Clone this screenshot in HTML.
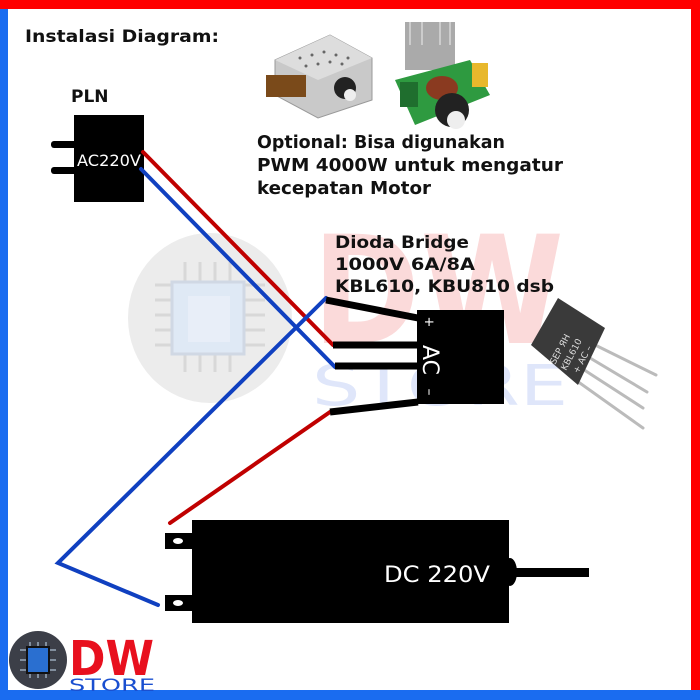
<!DOCTYPE html>
<html><head><meta charset="utf-8"><style>
html,body{margin:0;padding:0;background:#fff}
svg{display:block}
text{font-family:"DejaVu Sans","Liberation Sans",sans-serif}
</style></head><body>
<svg width="700" height="700" viewBox="0 0 700 700" xmlns="http://www.w3.org/2000/svg">
<rect width="700" height="700" fill="#fff"/>
<!-- borders -->
<rect x="0" y="0" width="700" height="9" fill="#f00"/>
<rect x="0" y="9" width="8" height="691" fill="#1a6cf0"/>
<rect x="691" y="0" width="9" height="700" fill="#f00"/>
<rect x="0" y="690" width="700" height="10" fill="#1a6cf0"/>

<!-- watermark -->
<ellipse cx="210" cy="318" rx="82" ry="85" fill="#ececec"/>
<g stroke="#d8d8d8" stroke-width="3">
<line x1="155" y1="285" x2="265" y2="285"/><line x1="155" y1="300" x2="265" y2="300"/><line x1="155" y1="315" x2="265" y2="315"/><line x1="155" y1="330" x2="265" y2="330"/><line x1="155" y1="345" x2="265" y2="345"/>
<line x1="185" y1="262" x2="185" y2="372"/><line x1="200" y1="262" x2="200" y2="372"/><line x1="215" y1="262" x2="215" y2="372"/><line x1="230" y1="262" x2="230" y2="372"/>
</g>
<rect x="172" y="282" width="72" height="72" fill="#dfe9f5" stroke="#d0d8e4" stroke-width="3"/>
<rect x="188" y="296" width="42" height="46" fill="#e8eef8"/>
<text x="312" y="343" font-size="150" font-weight="bold" fill="#fbdada" textLength="252" lengthAdjust="spacingAndGlyphs">DW</text>
<text x="312" y="405" font-size="56" fill="#dfe6fa" textLength="256" lengthAdjust="spacingAndGlyphs">STORE</text>

<!-- title -->
<text x="25" y="42" font-size="17" font-weight="bold" fill="#111" textLength="194" lengthAdjust="spacingAndGlyphs">Instalasi Diagram:</text>
<text x="71" y="102" font-size="17" font-weight="bold" fill="#111">PLN</text>

<!-- PWM images -->
<polygon points="275,60 330,35 372,58 372,100 318,118 275,95" fill="#c9c9c9" stroke="#999"/>
<polygon points="275,60 330,35 372,58 318,80" fill="#ddd"/>
<g fill="#666"><circle cx="300" cy="58" r="1.5"/><circle cx="312" cy="55" r="1.5"/><circle cx="324" cy="52" r="1.5"/><circle cx="336" cy="55" r="1.5"/><circle cx="348" cy="58" r="1.5"/><circle cx="318" cy="64" r="1.5"/><circle cx="330" cy="62" r="1.5"/><circle cx="342" cy="64" r="1.5"/><circle cx="306" cy="66" r="1.5"/></g>
<rect x="266" y="75" width="40" height="22" fill="#7a4a1a"/>
<circle cx="345" cy="88" r="11" fill="#222"/><circle cx="350" cy="95" r="6" fill="#eee"/>
<rect x="405" y="22" width="50" height="48" fill="#aaa"/>
<g stroke="#ccc" stroke-width="2"><line x1="410" y1="22" x2="410" y2="45"/><line x1="422" y1="22" x2="422" y2="45"/><line x1="440" y1="22" x2="440" y2="45"/><line x1="450" y1="22" x2="450" y2="45"/></g>
<polygon points="395,80 470,60 490,95 415,125" fill="#2e9a40"/>
<rect x="400" y="82" width="18" height="25" fill="#1f6e2e"/>
<rect x="472" y="63" width="16" height="24" fill="#e8b82c"/>
<ellipse cx="442" cy="88" rx="16" ry="12" fill="#8a3a20"/>
<circle cx="452" cy="110" r="17" fill="#222"/><circle cx="456" cy="120" r="9" fill="#eee"/>

<text font-size="17.5" font-weight="bold" fill="#111">
<tspan x="257" y="148" textLength="248" lengthAdjust="spacingAndGlyphs">Optional: Bisa digunakan</tspan>
<tspan x="257" y="171" textLength="306" lengthAdjust="spacingAndGlyphs">PWM 4000W untuk mengatur</tspan>
<tspan x="257" y="194" textLength="174" lengthAdjust="spacingAndGlyphs">kecepatan Motor</tspan>
</text>

<!-- AC source -->
<rect x="51" y="141" width="26" height="7" rx="3" fill="#000"/>
<rect x="51" y="167" width="26" height="7" rx="3" fill="#000"/>
<rect x="74" y="115" width="70" height="87" fill="#000"/>
<text x="77" y="166" font-size="16" fill="#fff" textLength="64" lengthAdjust="spacingAndGlyphs">AC220V</text>

<!-- Dioda text -->
<text font-size="17" font-weight="bold" fill="#111">
<tspan x="335" y="248" textLength="134" lengthAdjust="spacingAndGlyphs">Dioda Bridge</tspan>
<tspan x="335" y="270" textLength="140" lengthAdjust="spacingAndGlyphs">1000V 6A/8A</tspan>
<tspan x="335" y="292" textLength="219" lengthAdjust="spacingAndGlyphs">KBL610, KBU810 dsb</tspan>
</text>

<!-- wires -->
<g stroke-width="4" fill="none" stroke-linecap="round">
<polyline points="143,152 333,345" stroke="#c00000"/>
<polyline points="141,169 335,367" stroke="#1040c0"/>
<polyline points="326,298 58,563 158,605" stroke="#1040c0"/>
<polyline points="330,412 170,523" stroke="#c00000"/>
</g>
<!-- bridge leads -->
<g stroke="#000" stroke-width="7">
<line x1="326" y1="300" x2="418" y2="318"/>
<line x1="333" y1="345" x2="418" y2="345"/>
<line x1="335" y1="366" x2="418" y2="366"/>
<line x1="330" y1="412" x2="418" y2="402"/>
</g>
<rect x="417" y="310" width="87" height="94" fill="#000"/>
<text x="430" y="327" font-size="13" fill="#fff" text-anchor="middle" transform="rotate(90 430 322)">+</text>
<text x="0" y="0" font-size="22" fill="#fff" text-anchor="middle" transform="translate(423 360) rotate(90)">AC</text>
<text x="0" y="0" font-size="14" fill="#fff" text-anchor="middle" transform="translate(425 392) rotate(90)">–</text>

<!-- bridge photo -->
<g stroke="#bbb" stroke-width="3" stroke-linecap="round">
<line x1="585" y1="340" x2="656" y2="375"/>
<line x1="580" y1="352" x2="647" y2="392"/>
<line x1="575" y1="364" x2="643" y2="408"/>
<line x1="570" y1="376" x2="643" y2="428"/>
</g>
<polygon points="531,345 558,298 605,328 578,385" fill="#3a3a3a"/>
<text font-size="9" fill="#ddd" transform="translate(555 365) rotate(-62)">SEP ЯН</text>
<text font-size="9" fill="#ddd" transform="translate(566 371) rotate(-62)">KBL610</text>
<text font-size="9" fill="#ddd" transform="translate(578 374) rotate(-62)">+ AC  –</text>

<!-- motor -->
<rect x="165" y="533" width="30" height="16" fill="#000"/>
<rect x="165" y="595" width="30" height="16" fill="#000"/>
<ellipse cx="178" cy="541" rx="5" ry="3" fill="#fff"/>
<ellipse cx="178" cy="603" rx="5" ry="3" fill="#fff"/>
<rect x="192" y="520" width="317" height="103" fill="#000"/>
<rect x="505" y="568" width="84" height="9" fill="#000"/>
<ellipse cx="510" cy="572" rx="7" ry="14" fill="#000"/>
<text x="384" y="582" font-size="22" fill="#fff" textLength="106" lengthAdjust="spacingAndGlyphs">DC 220V</text>

<!-- logo -->
<circle cx="38" cy="660" r="29" fill="#3c3f48"/>
<g stroke="#9ab" stroke-width="1.5">
<line x1="20" y1="650" x2="56" y2="650"/><line x1="20" y1="660" x2="56" y2="660"/><line x1="20" y1="670" x2="56" y2="670"/>
<line x1="30" y1="642" x2="30" y2="678"/><line x1="38" y1="642" x2="38" y2="678"/><line x1="46" y1="642" x2="46" y2="678"/>
</g>
<rect x="27" y="647" width="22" height="26" fill="#2a6fd0" stroke="#111" stroke-width="2"/>
<text x="69" y="675" font-size="48" font-weight="bold" fill="#e8101e" textLength="85" lengthAdjust="spacingAndGlyphs">DW</text>
<text x="69" y="691" font-size="17" fill="#1a4fd0" textLength="86" lengthAdjust="spacingAndGlyphs">STORE</text>
</svg>
</body></html>
